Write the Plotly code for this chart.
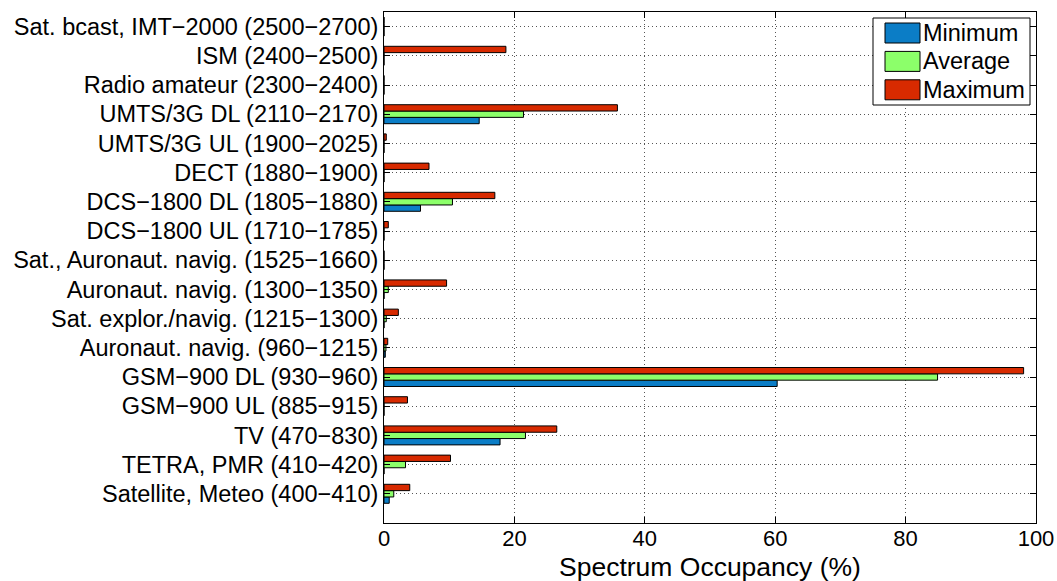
import plotly.graph_objects as go

categories = [
    "Satellite, Meteo (400−410)",
    "TETRA, PMR (410−420)",
    "TV (470−830)",
    "GSM−900 UL (885−915)",
    "GSM−900 DL (930−960)",
    "Auronaut. navig. (960−1215)",
    "Sat. explor./navig. (1215−1300)",
    "Auronaut. navig. (1300−1350)",
    "Sat., Auronaut. navig. (1525−1660)",
    "DCS−1800 UL (1710−1785)",
    "DCS−1800 DL (1805−1880)",
    "DECT (1880−1900)",
    "UMTS/3G UL (1900−2025)",
    "UMTS/3G DL (2110−2170)",
    "Radio amateur (2300−2400)",
    "ISM (2400−2500)",
    "Sat. bcast, IMT−2000 (2500−2700)",
]
minimum = [0.8, 0, 17.8, 0, 60.3, 0.2, 0, 0, 0, 0, 5.6, 0, 0, 14.6, 0, 0, 0]
average = [1.5, 3.3, 21.7, 0, 84.9, 0.3, 0.35, 0.66, 0, 0, 10.5, 0, 0, 21.4, 0, 0, 0]
maximum = [3.95, 10.2, 26.5, 3.6, 98.1, 0.57, 2.2, 9.6, 0, 0.66, 17.0, 6.9, 0.35, 35.8, 0, 18.7, 0]
series_names = ["Minimum", "Average", "Maximum"]
series_colors = ["#0B7DC6", "#8CFF6A", "#D82A00"]
x_ticks = [0, 20, 40, 60, 80, 100]
x_title = "Spectrum Occupancy (%)"

FONT = "Liberation Sans, Arial, Helvetica, sans-serif"
W, H = 1057, 581
L, R, T, B = 384, 21, 12, 58
PW, PH = W - L - R, H - T - B


def px2paper(px, py):
    return (px - L) / PW, (H - B - py) / PH


fig = go.Figure()
for name, vals, col in zip(series_names, [minimum, average, maximum], series_colors):
    fig.add_trace(go.Bar(
        y=categories, x=vals, name=name, orientation="h",
        marker=dict(color=col, line=dict(color="black", width=1)),
        showlegend=False,
    ))

# custom legend (large swatches like the reference)
shapes = []
annotations = []
bx0, by0 = px2paper(873, 18)
bx1, by1 = px2paper(1030, 105)
shapes.append(dict(type="rect", xref="paper", yref="paper", x0=bx0, x1=bx1, y0=by1, y1=by0,
                   line=dict(color="black", width=1), fillcolor="white", layer="above"))
for i, (name, col) in enumerate(zip(series_names, series_colors)):
    top = 23 + i * 28.4
    sx0, sy0 = px2paper(885, top)
    sx1, sy1 = px2paper(920, top + 20)
    shapes.append(dict(type="rect", xref="paper", yref="paper", x0=sx0, x1=sx1, y0=sy1, y1=sy0,
                       line=dict(color="black", width=1), fillcolor=col, layer="above"))
    tx, ty = px2paper(921, top + 10)
    annotations.append(dict(text=name, xref="paper", yref="paper", x=tx, y=ty,
                            xanchor="left", yanchor="middle", showarrow=False,
                            font=dict(size=23.5, family=FONT, color="black")))

# x-axis title
annotations.append(dict(text=x_title, xref="paper", yref="paper", x=0.5,
                        y=px2paper(0, 584)[1], xanchor="center", yanchor="bottom",
                        showarrow=False, font=dict(size=26.5, family=FONT, color="black")))

fig.update_layout(
    width=W, height=H,
    margin=dict(l=L, r=R, t=T, b=B, autoexpand=False),
    paper_bgcolor="white", plot_bgcolor="white",
    barmode="group", bargap=0.35, bargroupgap=0,
    font=dict(family=FONT, color="black", size=18),
    showlegend=False,
    shapes=shapes, annotations=annotations,
)
fig.update_xaxes(
    range=[0, 100], tickvals=x_ticks, ticktext=[str(v) for v in x_ticks],
    showline=True, linecolor="black", linewidth=1, mirror="ticks",
    ticks="inside", ticklen=6, tickcolor="black",
    showgrid=True, gridcolor="#555555", griddash="1px,3px", gridwidth=1,
    zeroline=False, tickfont=dict(size=22), automargin=False,
    ticklabelstandoff=-4,
)
fig.update_yaxes(
    type="category", categoryorder="array", categoryarray=categories,
    range=[-1.0, 16.5],
    showline=True, linecolor="black", linewidth=1, mirror="ticks",
    ticks="inside", ticklen=6, tickcolor="black",
    showgrid=True, gridcolor="#555555", griddash="1px,3px", gridwidth=1,
    zeroline=False, tickfont=dict(size=23.5), automargin=False,
)

fig.write_html("out.html")
